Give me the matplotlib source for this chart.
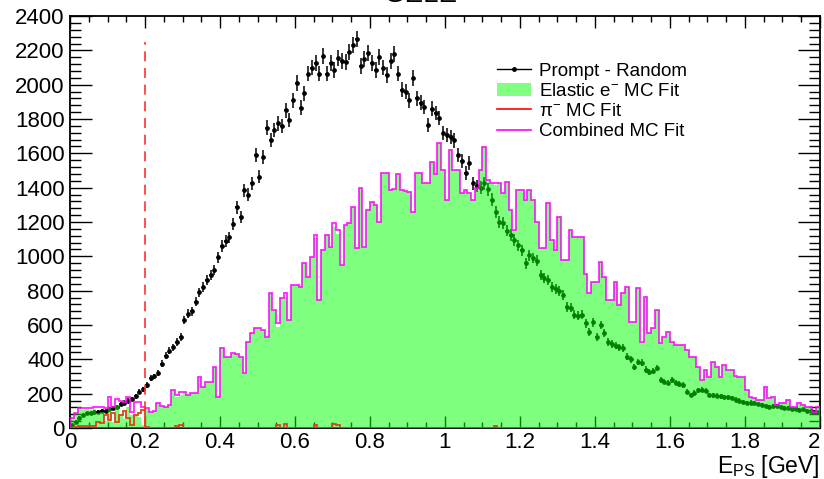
import numpy as np
import matplotlib
matplotlib.use("Agg")
import matplotlib.pyplot as plt
from matplotlib.lines import Line2D
from matplotlib.patches import Patch
from matplotlib.ticker import MultipleLocator

plt.rcParams['font.family'] = ['Liberation Sans', 'DejaVu Sans']
plt.rcParams['mathtext.fontset'] = 'custom'
plt.rcParams['mathtext.rm'] = 'Liberation Sans'
plt.rcParams['mathtext.it'] = 'Liberation Sans:italic'

# 200 bins of 0.01 GeV from 0 to 2 GeV
edges = np.linspace(0, 2, 201)

# Prompt - Random counts
data = [20, 35, 60, 75, 85, 90, 95, 95, 100, 98,
        110, 118, 125, 140, 148, 160, 170, 185, 210, 225,
        250, 290, 300, 320, 375, 420, 450, 470, 500, 530,
        630, 665, 680, 735, 790, 820, 860, 890, 920, 995,
        1060, 1090, 1110, 1190, 1285, 1230, 1385, 1360, 1425, 1590,
        1465, 1580, 1750, 1680, 1735, 1775, 1760, 1850, 1795, 1910,
        2010, 1865, 1950, 2065, 2100, 2125, 2065, 2170, 2065, 2125,
        2085, 2155, 2140, 2130, 2190, 2230, 2265, 2110, 2150, 2185,
        2125, 2085, 2160, 2100, 2055, 2140, 2180, 2065, 1970, 1960,
        1910, 2040, 1920, 1895, 1870, 1765, 1860, 1835, 1805, 1720,
        1705, 1695, 1675, 1590, 1555, 1485, 1545, 1425, 1410, 1400,
        1425, 1390, 1330, 1260, 1200, 1195, 1150, 1125, 1095, 1065,
        1035, 960, 1005, 990, 975, 890, 875, 860, 820, 810,
        800, 775, 705, 700, 660, 655, 660, 610, 560, 615,
        530, 600, 555, 500, 490, 480, 470, 465, 415, 400,
        355, 385, 380, 340, 325, 330, 350, 280, 270, 265,
        280, 265, 255, 250, 210, 192, 205, 220, 222, 218,
        192, 190, 188, 185, 180, 178, 175, 165, 160, 150,
        145, 148, 145, 140, 135, 128, 122, 130, 128, 120,
        118, 115, 112, 110, 105, 108, 100, 98, 95, 92]

# combined MC fit (elastic + pion)
combined = [60, 90, 115, 116, 118, 115, 120, 120, 122, 118,
            180, 120, 170, 160, 150, 180, 95, 150, 150, 120,
            115, 95, 100, 145, 130, 125, 134, 221, 192, 210,
            210, 192, 204, 204, 297, 239, 268, 268, 355, 180,
            466, 413, 413, 437, 430, 413, 320, 501, 553, 582,
            582, 570, 530, 786, 687, 611, 757, 786, 629, 833,
            833, 821, 961, 879, 996, 1124, 745, 1037, 1124, 1054,
            1194, 1153, 949, 1182, 1194, 1287, 1048, 1398, 1054, 1270,
            1316, 1300, 1200, 1485, 1485, 1386, 1390, 1480, 1386, 1380,
            1375, 1258, 1485, 1485, 1427, 1427, 1549, 1480, 1660, 1503,
            1328, 1619, 1503, 1503, 1369, 1386, 1369, 1330, 1398, 1503,
            1637, 1444, 1427, 1427, 1427, 1369, 1433, 1270, 1153, 1386,
            1386, 1328, 1386, 1328, 1200, 1048, 1048, 1310, 1095, 1037,
            1229, 978, 978, 1153, 1112, 1112, 1112, 900, 786, 850,
            850, 967, 879, 745, 745, 850, 716, 786, 821, 617,
            617, 815, 501, 763, 553, 582, 687, 495, 530, 559,
            501, 483, 483, 483, 454, 413, 413, 355, 280, 338,
            297, 384, 355, 297, 367, 338, 338, 300, 297, 297,
            221, 180, 175, 163, 163, 239, 175, 180, 134, 145,
            145, 163, 122, 122, 145, 134, 122, 122, 93, 122]

# pi- MC fit
pion = [0, 5, 10, 10, 10, 10, 10, 35, 30, 76,
        47, 87, 35, 76, 100, 58, 17, 76, 87, 105,
        5, 0, 0, 0, 0, 0, 0, 0, 12, 15,
        0, 0, 0, 0, 0, 0, 0, 0, 0, 0,
        0, 0, 0, 0, 0, 0, 0, 0, 0, 0,
        0, 0, 0, 0, 0, 20, 0, 25, 0, 0,
        0, 0, 0, 0, 0, 15, 0, 0, 0, 0,
        25, 20, 0, 0, 0, 0, 0, 0, 0, 0] + [0] * 33 + [10] + [0] * 86

x_ticks = [0, 0.2, 0.4, 0.6, 0.8, 1, 1.2, 1.4, 1.6, 1.8, 2]
x_ticklabels = ['0', '0.2', '0.4', '0.6', '0.8', '1', '1.2', '1.4', '1.6', '1.8', '2']

elastic = np.clip(np.array(combined) - np.array(pion), 0, None)

cut_energy = 0.2
cut_top = 2250

centers = 0.5 * (edges[:-1] + edges[1:])
data = np.array(data)

fig = plt.figure(figsize=(8.24, 4.79), dpi=100)
ax = fig.add_axes([0.085, 0.1065, 0.91, 0.86])

ax.errorbar(centers, data, yerr=np.sqrt(data), xerr=0.004, fmt='o',
            color='black', ms=2.4, lw=1.1, capsize=0, zorder=1)
ax.stairs(elastic, edges, fill=True, color=(0, 1, 0), alpha=0.5,
          lw=0, zorder=3)
ax.stairs(pion, edges, color='#d9441c', lw=1.3, zorder=4)
ax.stairs(combined, edges, color='magenta', lw=1.3, alpha=0.85, zorder=5)
ax.vlines(cut_energy, 0, cut_top, colors='#ff3030', lw=1.2,
          linestyles=(0, (6, 4)), zorder=6)

ax.set_xlim(0, 2)
ax.set_ylim(0, 2400)
ax.set_xticks(x_ticks)
ax.set_xticklabels(x_ticklabels)
ax.xaxis.set_minor_locator(MultipleLocator(0.05))
ax.yaxis.set_major_locator(MultipleLocator(200))
ax.yaxis.set_minor_locator(MultipleLocator(40))
ax.tick_params(which='both', direction='in', top=True, right=True,
               labelsize=16, width=1)
ax.xaxis.set_tick_params(which='major', length=8.5, pad=3)
ax.xaxis.set_tick_params(which='minor', length=4.3)
ax.yaxis.set_tick_params(which='major', length=16, pad=4)
ax.yaxis.set_tick_params(which='minor', length=8)
for s in ax.spines.values():
    s.set_linewidth(1.3)

ax.xaxis.get_major_ticks()[-1].label1.set_horizontalalignment('right')

ax.set_xlabel(r'E$_{\rm PS}$ [GeV]', fontsize=16.5, loc='right', labelpad=0)

handles = [Line2D([], [], color='black', marker='o', ms=2.5, lw=1),
           Patch(facecolor=(0.5, 1, 0.5), edgecolor='none'),
           Line2D([], [], color='red', lw=1.2),
           Line2D([], [], color='magenta', lw=1.2)]
labels = ['Prompt - Random', r'Elastic e$^{-}$ MC Fit',
          r'π$^{-}$ MC Fit', 'Combined MC Fit']
ax.legend(handles, labels, loc='upper left', bbox_to_anchor=(0.56, 0.905),
          frameon=False, fontsize=13.5, handlelength=1.8, handletextpad=0.4,
          labelspacing=0.16, borderaxespad=0)

fig.text(0.51, 0.995, 'GELE', ha='center', va='baseline', fontsize=20)

fig.savefig('out.png', dpi=100)
